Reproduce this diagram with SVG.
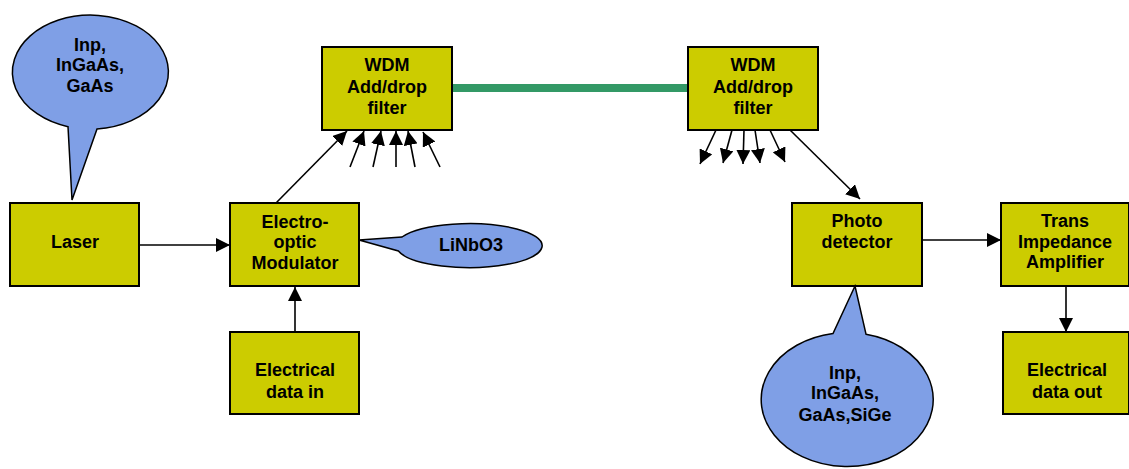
<svg xmlns="http://www.w3.org/2000/svg" width="1129" height="469" viewBox="0 0 1129 469">
<style>
.box{fill:#cccc00;stroke:#000;stroke-width:2}
.bub{fill:#7f9fe6;stroke:#000;stroke-width:1.5}
.t{font-family:"Liberation Sans",Arial,sans-serif;font-weight:bold;font-size:18px;fill:#000;text-anchor:middle}
.c{stroke:#000;stroke-width:1.6;fill:none;marker-end:url(#ah)}
</style>
<defs>
<marker id="ah" viewBox="0 0 10 10" refX="10" refY="5" markerWidth="14" markerHeight="14" markerUnits="userSpaceOnUse" orient="auto">
<path d="M0,0 L10,5 L0,10 z" fill="#000"/>
</marker>
</defs>
<g id="connectors">
<line x1="452" y1="88" x2="688" y2="88" stroke="#339966" stroke-width="8"/>
<line class="c" x1="139" y1="245" x2="230" y2="245"/>
<line class="c" x1="295" y1="332" x2="295" y2="287"/>
<line class="c" x1="276" y1="203" x2="347" y2="131"/>
<line class="c" x1="350" y1="167" x2="364" y2="131"/>
<line class="c" x1="373" y1="167" x2="381" y2="131"/>
<line class="c" x1="396" y1="167" x2="396" y2="131"/>
<line class="c" x1="415" y1="167" x2="408" y2="131"/>
<line class="c" x1="440" y1="167" x2="423" y2="132"/>
<line class="c" x1="716" y1="130" x2="700" y2="164"/>
<line class="c" x1="732" y1="130" x2="723" y2="163"/>
<line class="c" x1="744" y1="130" x2="743" y2="164"/>
<line class="c" x1="755" y1="130" x2="760" y2="163"/>
<line class="c" x1="770" y1="130" x2="785" y2="162"/>
<line class="c" x1="790" y1="130" x2="860" y2="199"/>
<line class="c" x1="922" y1="240" x2="1001" y2="240"/>
<line class="c" x1="1066" y1="286" x2="1066" y2="332"/>
</g>
<g id="bubble-laser">
<path class="bub" d="M 97 128.9 A 78 57 0 1 0 68 126.7 L 72 200 Z"/>
<text class="t" x="90" y="51">Inp,</text>
<text class="t" x="90" y="71">InGaAs,</text>
<text class="t" x="90" y="92">GaAs</text>
</g>
<g id="laser">
<rect class="box" x="10" y="203" width="129" height="83"/>
<text class="t" x="75" y="248">Laser</text>
</g>
<g id="modulator">
<rect class="box" x="230" y="203" width="129" height="83"/>
<text class="t" x="295" y="228">Electro-</text>
<text class="t" x="295" y="248">optic</text>
<text class="t" x="295" y="269">Modulator</text>
</g>
<g id="bubble-linbo3">
<path class="bub" d="M 402 237 A 73 22 0 1 1 398.4 251 L 359 240 Z"/>
<text class="t" x="471" y="251">LiNbO3</text>
</g>
<g id="data-in">
<rect class="box" x="230" y="332" width="129" height="82"/>
<text class="t" x="295" y="376">Electrical</text>
<text class="t" x="295" y="398">data in</text>
</g>
<g id="wdm1">
<rect class="box" x="322" y="47" width="130" height="83"/>
<text class="t" x="387" y="71">WDM</text>
<text class="t" x="387" y="93">Add/drop</text>
<text class="t" x="387" y="114">filter</text>
</g>
<g id="wdm2">
<rect class="box" x="688" y="47" width="130" height="83"/>
<text class="t" x="753" y="71">WDM</text>
<text class="t" x="753" y="93">Add/drop</text>
<text class="t" x="753" y="114">filter</text>
</g>
<g id="photodetector">
<rect class="box" x="792" y="203" width="130" height="83"/>
<text class="t" x="857" y="227">Photo</text>
<text class="t" x="857" y="248">detector</text>
</g>
<g id="bubble-detector">
<path class="bub" d="M 833 333.5 A 86 67 0 1 0 866 334.2 L 855 286 Z"/>
<text class="t" x="845" y="379">Inp,</text>
<text class="t" x="845" y="399">InGaAs,</text>
<text class="t" x="845" y="421">GaAs,SiGe</text>
</g>
<g id="tia">
<rect class="box" x="1001" y="203" width="128" height="83"/>
<text class="t" x="1065" y="227">Trans</text>
<text class="t" x="1065" y="248">Impedance</text>
<text class="t" x="1065" y="268">Amplifier</text>
</g>
<g id="data-out">
<rect class="box" x="1003" y="332" width="126" height="82"/>
<text class="t" x="1067" y="376">Electrical</text>
<text class="t" x="1067" y="398">data out</text>
</g>
</svg>
